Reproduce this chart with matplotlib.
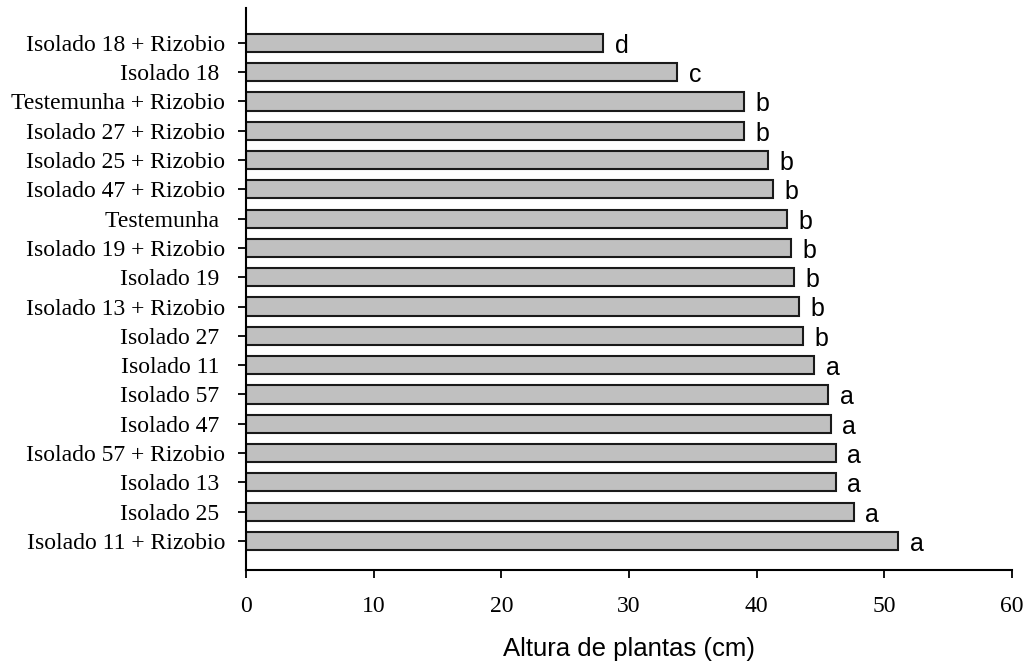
import matplotlib.pyplot as plt
import numpy as np

# treatments, top to bottom as in the figure
tratamentos = ["Isolado 18 + Rizobio", "Isolado 18 ", "Testemunha + Rizobio",
               "Isolado 27 + Rizobio", "Isolado 25 + Rizobio", "Isolado 47 + Rizobio",
               "Testemunha ", "Isolado 19 + Rizobio", "Isolado 19 ",
               "Isolado 13 + Rizobio", "Isolado 27 ", "Isolado 11 ", "Isolado 57 ",
               "Isolado 47 ", "Isolado 57 + Rizobio", "Isolado 13 ", "Isolado 25 ",
               "Isolado 11 + Rizobio"]
altura = [28.0, 33.8, 39.0, 39.0, 40.9, 41.3, 42.4, 42.7, 42.9, 43.3, 43.6,
          44.5, 45.6, 45.8, 46.2, 46.2, 47.6, 51.1]
letras = ["d", "c", "b", "b", "b", "b", "b", "b", "b", "b", "b",
          "a", "a", "a", "a", "a", "a", "a"]

n = len(tratamentos)
y = np.arange(n)[::-1]

fig = plt.figure(figsize=(10.28, 6.62), dpi=100)
ax = fig.add_axes([0.2393, 0.139, 0.7451, 0.849])

ax.barh(y, altura, height=0.62, color="#c0c0c0", edgecolor="#1a1a1a", linewidth=1.5)

for yi, v, l in zip(y, altura, letras):
    ax.text(v + 0.9, yi - 0.1, l, ha="left", va="center", fontsize=18,
            family="Liberation Sans")

ax.set_xlim(0, 60)
ax.set_ylim(-0.99, n + 0.19)
ax.set_xticks(range(0, 61, 10))
ax.set_yticks(y)
ax.set_yticklabels(tratamentos)

for lab in ax.get_yticklabels() + ax.get_xticklabels():
    lab.set_family("Liberation Serif")
    lab.set_fontsize(17)

ax.tick_params(axis="y", direction="out", length=6, width=1.3, pad=9)
ax.tick_params(axis="x", direction="out", length=6, width=1.3, pad=13)

ax.spines["top"].set_visible(False)
ax.spines["right"].set_visible(False)
ax.spines["left"].set_linewidth(1.5)
ax.spines["bottom"].set_linewidth(1.5)

ax.set_xlabel("Altura de plantas (cm)", fontsize=18.5, family="Liberation Sans", labelpad=14)

fig.savefig("out.png", dpi=100)
